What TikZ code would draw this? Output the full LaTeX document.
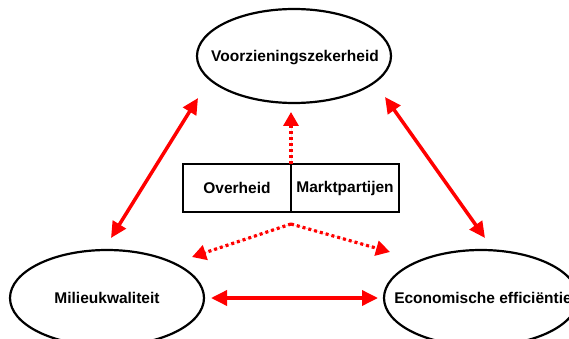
\documentclass[tikz,border=0pt]{standalone}
\usepackage{fontspec}
\setmainfont{Liberation Sans}
\usetikzlibrary{shapes.geometric,arrows.meta}
\begin{document}
\begin{tikzpicture}[x=1pt,y=-1pt,
  oval/.style={draw=black,line width=2.2pt,ellipse,inner sep=0pt},
  lbl/.style={font=\bfseries\fontsize{15.5}{18}\selectfont,inner sep=0pt},
  cell/.style={draw=black,line width=2.2pt,minimum width=108pt,minimum height=48pt,inner sep=0pt,font=\bfseries\fontsize{15.5}{18}\selectfont},
  redarrow/.style={draw=red,line width=3.5pt,{Triangle[length=16pt,width=15pt]}-{Triangle[length=16pt,width=15pt]},fill=red},
  dotarrow/.style={draw=red,line width=3.2pt,dash pattern=on 3pt off 3pt,-{Triangle[length=14pt,width=15pt]},fill=red}
]
\useasboundingbox (0,0) rectangle (569,339);
\node[oval,minimum width=194pt,minimum height=94pt] (top) at (294,56) {};
\node[lbl] (toptxt) at (295,58) {Voorzieningszekerheid};
\node[oval,minimum width=194pt,minimum height=96pt] (left) at (107,298) {};
\node[lbl] (lefttxt) at (107,298) {Milieukwaliteit};
\node[oval,minimum width=194pt,minimum height=96pt] (right) at (481,298) {};
\node[lbl] (righttxt) at (483,298) {Economische efficiëntie};
\node[cell] (gov) at (237,188) {Overheid};
\node[cell] (mkt) at (345,188) {Marktpartijen};
% arrow end points
\coordinate (a1) at (198,98);
\coordinate (a2) at (111,238);
\coordinate (b1) at (385,97);
\coordinate (b2) at (485,238);
\coordinate (c1) at (211,298);
\coordinate (c2) at (378,298);
\coordinate (d0) at (291,164);
\coordinate (d1) at (291,112);
\coordinate (e0) at (291,224);
\coordinate (e1) at (192,257);
\coordinate (e2) at (390,252);
\draw[redarrow] (a1) -- (a2);
\draw[redarrow] (b1) -- (b2);
\draw[redarrow] (c1) -- (c2);
\draw[dotarrow] (d0) -- (d1);
\draw[dotarrow] (e0) -- (e1);
\draw[dotarrow] (e0) -- (e2);
\end{tikzpicture}
\end{document}
